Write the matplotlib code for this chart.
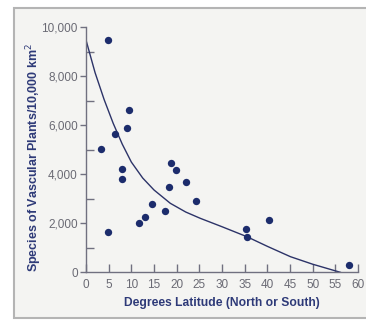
import matplotlib
matplotlib.use("Agg")
import matplotlib.pyplot as plt
from matplotlib.patches import Rectangle
from matplotlib.ticker import FuncFormatter, MultipleLocator

plt.rcParams['font.family'] = ['Liberation Sans', 'DejaVu Sans']

# observed points (degrees latitude, species per 10,000 km2)
lat = [4.75, 9.5, 9.0, 6.45, 3.3, 7.9, 7.9, 18.8, 19.8, 22.0, 18.2,
       24.3, 14.6, 17.5, 13.1, 11.7, 4.75, 35.4, 35.5, 40.3, 57.95]
species = [9480, 6620, 5880, 5645, 5030, 4200, 3800, 4470, 4180, 3700, 3470,
           2910, 2790, 2510, 2260, 2030, 1660, 1755, 1450, 2135, 285]

# trend curve
curve_lat = [0, 2, 4, 6, 8, 10, 12.5, 15, 18.6, 22, 25.2, 30, 35.5, 40, 45.1, 50, 56.1]
curve_sp = [9480, 8150, 7050, 6080, 5230, 4500, 3850, 3360, 2816, 2460, 2204,
            1860, 1453, 1060, 637, 330, 0]

navy = '#1c2c6c'
label_col = '#2e3a78'
tick_col = '#707080'

fig = plt.figure(figsize=(3.66, 3.31), dpi=100, facecolor='white')
fig.patches.append(Rectangle((14 / 366, 1 - 318 / 331), 1.0, (318 - 8) / 331,
                             transform=fig.transFigure, facecolor='#f4f4f2',
                             edgecolor='#b4b4b4', linewidth=1.5, zorder=-5))

ax = fig.add_axes([86 / 366, 1 - 272.3 / 331, 272 / 366, 245 / 331])
ax.set_facecolor('none')

ax.plot(curve_lat, curve_sp, color='#2c3368', lw=1.0, zorder=2)
ax.scatter(lat, species, s=28, color=navy, zorder=3, linewidths=0)

ax.set_xlim(0, 60)
ax.set_ylim(0, 10000)
ax.set_xticks(range(0, 61, 5))
ax.yaxis.set_major_locator(MultipleLocator(2000))
ax.yaxis.set_minor_locator(MultipleLocator(1000))
ax.yaxis.set_major_formatter(FuncFormatter(lambda v, p: f'{int(v):,}'))

for s in ['top', 'right']:
    ax.spines[s].set_visible(False)
for s in ['left', 'bottom']:
    ax.spines[s].set_color(tick_col)
    ax.spines[s].set_linewidth(1.0)

ax.tick_params(axis='x', direction='in', length=6, width=1, color=tick_col,
               labelsize=8.5, labelcolor='#6a6a74', pad=5)
ax.tick_params(axis='y', which='major', direction='out', length=4.5, width=1,
               color=tick_col, labelsize=8.5, labelcolor='#6a6a74', pad=1.5)
ax.tick_params(axis='y', which='minor', direction='in', length=6, width=1,
               color=tick_col)

ax.set_xlabel('Degrees Latitude (North or South)', fontsize=8.7, fontweight='bold',
              color=label_col)
ax.xaxis.set_label_coords(0.5, -0.1)
ax.set_ylabel('Species of Vascular Plants/10,000 km$^2$', fontsize=9,
              fontweight='bold', color=label_col)
ax.yaxis.set_label_coords(-0.155, 0.47)

fig.savefig('out.png', dpi=100, facecolor=fig.get_facecolor())
